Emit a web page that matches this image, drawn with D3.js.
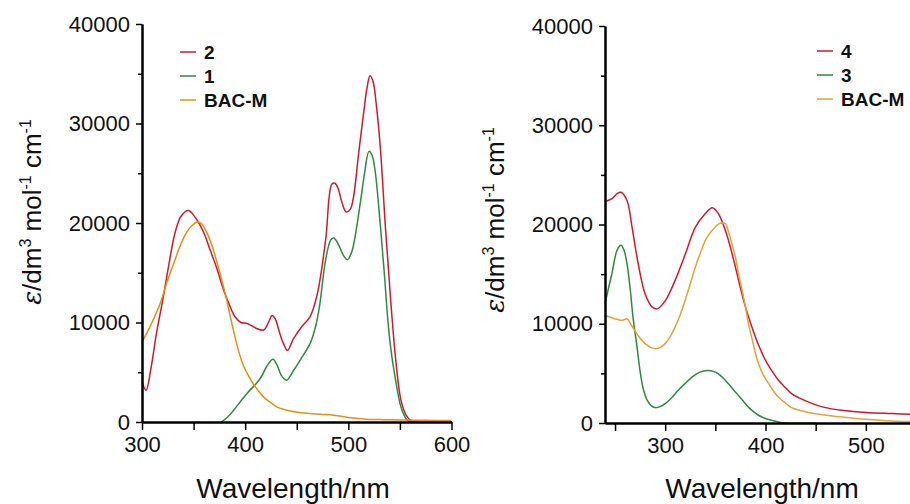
<!DOCTYPE html>
<html>
<head>
<meta charset="utf-8">
<script src="https://cdn.jsdelivr.net/npm/d3@7"></script>
<style>
  body { margin: 0; background: #fff; }
  svg { display: block; font-family: "Liberation Sans", Arial, sans-serif; }
</style>
</head>
<body>
<svg id="chart" width="910" height="504"></svg>
<script>
// values: [wavelength nm, epsilon]
const compound2 = [[300,4050],[304,3200],[309,5600],[314,8900],[320,12200],[326,15800],[332,19000],[338,20700],[345,21250],[352,20500],[360,19000],[366,17300],[372,15600],[379,13300],[385,11700],[390,10600],[396,10000],[402,9900],[411,9400],[418,9250],[423,10100],[426,10700],[429,10400],[433,9100],[437,7900],[441,7200],[447,8400],[455,9600],[463,10600],[470,12900],[478,18300],[484,23900],[487,24000],[490,23500],[494,22000],[498,21100],[502,21400],[505,22600],[510,27000],[515,31200],[518,33500],[521,34800],[524,34200],[527,32000],[531,27600],[536,19500],[541,12300],[546,6200],[551,2200],[556,700],[561,100],[566,0],[600,0]];
const compound1 = [[377,0],[383,500],[389,1200],[395,2000],[402,2900],[411,3900],[416,4600],[421,5600],[427,6300],[431,5700],[435,4700],[440,4200],[447,5200],[455,6500],[463,7900],[468,9500],[472,11600],[478,16300],[483,18300],[486,18500],[491,17700],[495,16800],[499,16300],[503,17000],[506,18300],[512,22300],[516,25200],[520,27200],[523,26800],[526,25200],[531,19800],[535,14800],[538,10600],[541,7500],[545,4700],[551,1500],[555,500],[558,100],[562,0]];
const bacmLeft = [[300,8050],[305,9000],[311,10300],[318,12000],[324,14000],[331,16000],[337,17700],[343,19000],[348,19700],[354,20100],[358,19900],[363,19000],[368,17700],[372,16300],[377,14400],[382,12300],[386,10400],[390,8600],[394,7000],[399,5500],[404,4500],[408,3800],[413,3100],[418,2500],[424,2000],[431,1500],[438,1250],[444,1100],[452,950],[460,880],[473,780],[486,680],[500,460],[518,280],[535,230],[551,200],[575,170],[600,150]];

const compound4 = [[240,22300],[247,22600],[252,23100],[256,23250],[262,22400],[267,19700],[273,16100],[280,13000],[287,11700],[292,11500],[300,12300],[310,14400],[320,17000],[330,19700],[340,21100],[347,21700],[353,21100],[360,19400],[365,17700],[370,15700],[375,13600],[380,11700],[385,10100],[390,8650],[395,7400],[400,6300],[406,5300],[413,4300],[420,3550],[426,2950],[435,2450],[443,2100],[451,1800],[460,1550],[476,1280],[500,1050],[526,950],[550,870]];
const compound3 = [[240,12000],[244,13800],[247,15100],[252,17400],[256,17900],[259,17400],[262,16000],[265,13600],[268,10600],[272,7600],[275,5200],[278,3500],[282,2300],[286,1750],[290,1550],[295,1650],[300,1950],[307,2600],[313,3300],[320,4000],[327,4650],[334,5100],[342,5300],[348,5200],[353,4950],[358,4500],[363,3950],[368,3350],[373,2780],[378,2200],[383,1600],[388,1150],[393,780],[400,450],[406,270],[413,100],[420,0],[450,0]];
const bacmRight = [[240,10850],[245,10650],[250,10500],[256,10350],[259,10400],[262,10500],[266,9900],[271,9100],[277,8300],[285,7650],[292,7500],[300,8000],[305,8700],[310,9700],[315,10900],[320,12400],[325,14000],[330,15700],[335,17100],[340,18400],[345,19200],[350,19750],[354,20100],[357,20150],[360,20100],[363,19300],[367,17900],[370,16700],[373,15100],[377,13200],[380,11700],[383,10000],[387,8300],[390,7000],[393,6000],[398,4800],[403,4000],[408,3200],[413,2600],[420,2000],[426,1550],[435,1250],[443,1050],[452,900],[460,780],[476,600],[500,370],[526,200],[550,140]];

const yTicks = [0, 10000, 20000, 30000, 40000];
const yMinor = [5000, 15000, 25000, 35000];
const leftXTicks = [300, 400, 500, 600];
const leftXMinor = [350, 450, 550];
const rightXTicks = [300, 400, 500];
const rightXMinor = [250, 350, 450, 550];

const red = "#d3182b";
const green = "#2e8a3e";

const svg = d3.select("#chart");

function drawPanel(p) {
  const x = d3.scaleLinear().domain(p.xDomain).range(p.xRange);
  const y = d3.scaleLinear().domain([0, 40000]).range(p.yRange);
  const g = svg.append("g");

  const line = d3.line()
    .x(d => x(d[0]))
    .y(d => y(d[1]))
    .curve(d3.curveCatmullRom);

  p.series.forEach(s => {
    g.append("path")
      .datum(s.data)
      .attr("fill", "none")
      .attr("stroke", s.color)
      .attr("stroke-width", 1.5)
      .attr("d", line);
  });

  // minor ticks first, then the main axes on top
  g.append("g")
    .attr("transform", `translate(${p.xRange[0]},0)`)
    .call(d3.axisLeft(y).tickValues(yMinor).tickFormat("").tickSize(4).tickSizeOuter(0));
  g.append("g")
    .attr("transform", `translate(0,${p.yRange[0]})`)
    .call(d3.axisBottom(x).tickValues(p.xMinor).tickFormat("").tickSize(8).tickSizeOuter(0));

  const yAxis = g.append("g")
    .attr("transform", `translate(${p.xRange[0]},0)`)
    .call(d3.axisLeft(y).tickValues(yTicks).tickFormat(d3.format("d")).tickSize(6).tickPadding(6).tickSizeOuter(0));
  const xAxis = g.append("g")
    .attr("transform", `translate(0,${p.yRange[0]})`)
    .call(d3.axisBottom(x).tickValues(p.xTicks).tickSize(8).tickPadding(6).tickSizeOuter(0));

  g.selectAll(".domain").attr("stroke", "#000").attr("stroke-width", 2);
  g.selectAll(".tick line").attr("stroke", "#000").attr("stroke-width", 1.5);
  g.selectAll(".tick text")
    .attr("font-family", "'Liberation Sans', Arial, sans-serif")
    .attr("font-size", 22)
    .attr("fill", "#111");

  // axis titles
  g.append("text")
    .attr("x", p.xTitleX).attr("y", 498)
    .attr("text-anchor", "middle")
    .attr("font-size", 28)
    .attr("fill", "#111")
    .text("Wavelength/nm");

  const yt = g.append("text")
    .attr("transform", `translate(${p.yTitleX},${p.yTitleY}) rotate(-90)`)
    .attr("text-anchor", "middle")
    .attr("font-size", 26)
    .attr("fill", "#111");
  yt.append("tspan").attr("font-family", "'DejaVu Serif', serif").attr("font-style", "italic").text("ε");
  yt.append("tspan").text("/dm");
  yt.append("tspan").attr("font-size", 16).attr("dy", -10).text("3");
  yt.append("tspan").attr("dy", 10).text(" mol");
  yt.append("tspan").attr("font-size", 16).attr("dy", -10).text("-1");
  yt.append("tspan").attr("dy", 10).text(" cm");
  yt.append("tspan").attr("font-size", 16).attr("dy", -10).text("-1");

  // legend
  const lg = g.append("g");
  p.series.forEach((s, i) => {
    const cy = p.legendY + i * 24;
    lg.append("line")
      .attr("x1", p.legendX).attr("x2", p.legendX + 16)
      .attr("y1", cy).attr("y2", cy)
      .attr("stroke", s.color).attr("stroke-width", 1.5);
    lg.append("text")
      .attr("x", p.legendX + 24).attr("y", cy + 7)
      .attr("font-size", 19).attr("font-weight", "bold")
      .attr("fill", "#111")
      .text(s.name);
  });
}

drawPanel({
  xDomain: [300, 600], xRange: [142, 451.5], yRange: [422, 24],
  xTicks: leftXTicks, xMinor: leftXMinor,
  xTitleX: 293, yTitleX: 41, yTitleY: 212,
  legendX: 180, legendY: 52,
  series: [
    { name: "2", color: red, data: compound2 },
    { name: "1", color: green, data: compound1 },
    { name: "BAC-M", color: "#e88c1a", data: bacmLeft }
  ]
});

drawPanel({
  xDomain: [240, 550], xRange: [605, 916], yRange: [423, 26],
  xTicks: rightXTicks, xMinor: rightXMinor,
  xTitleX: 762, yTitleX: 504, yTitleY: 220,
  legendX: 817, legendY: 51,
  series: [
    { name: "4", color: red, data: compound4 },
    { name: "3", color: green, data: compound3 },
    { name: "BAC-M", color: "#e3a23a", data: bacmRight }
  ]
});
</script>
</body>
</html>
